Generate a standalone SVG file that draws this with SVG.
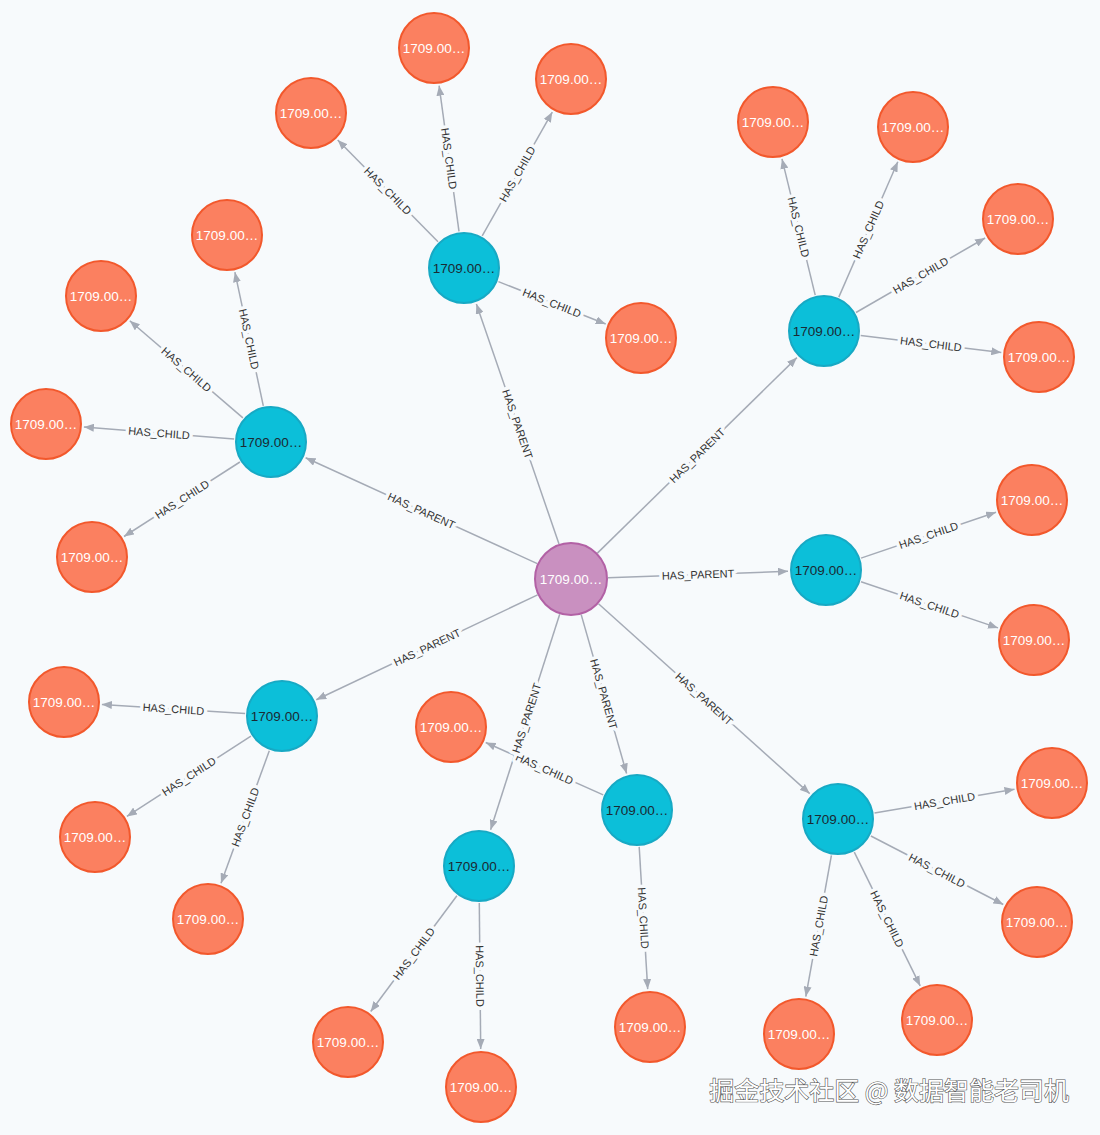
<svg xmlns="http://www.w3.org/2000/svg" width="1100" height="1135" viewBox="0 0 1100 1135">
<defs>
<style>
.e line{stroke:#A5ABB6;stroke-width:1.5;marker-end:url(#arr)}
.e text{font-family:"Liberation Sans",Arial,sans-serif;font-size:11px;fill:#333;text-anchor:middle;dominant-baseline:central;stroke:#F7FAFC;stroke-width:7;paint-order:stroke;stroke-linejoin:round}
.o{fill:#FB8060;stroke:#F2582C;stroke-width:2}
.b{fill:#0CBFD9;stroke:#17A9C4;stroke-width:2}
.p{fill:#C990C0;stroke:#B261A5;stroke-width:2}
.n text{font-family:"Liberation Sans",Arial,sans-serif;font-size:13.5px;text-anchor:middle;dominant-baseline:central}
.w{fill:#fff}
.k{fill:#1b2a33}
</style>
<marker id="arr" viewBox="0 0 10 8" refX="10" refY="4" markerWidth="10" markerHeight="8" markerUnits="userSpaceOnUse" orient="auto"><path d="M0,0 L10,4 L0,8 z" fill="#A5ABB6"/></marker>
</defs>
<rect width="1100" height="1135" fill="#F7FAFC"/>
<g id="edges" class="e">
<line x1="559" y1="544" x2="476.4" y2="303.9"/>
<line x1="537.3" y1="563.6" x2="305.6" y2="457.8"/>
<line x1="597.4" y1="553.1" x2="796.9" y2="357.6"/>
<line x1="608" y1="577.7" x2="788" y2="571.3"/>
<line x1="537.6" y1="594.9" x2="316.3" y2="699.7"/>
<line x1="559.7" y1="614.2" x2="490.6" y2="829.8"/>
<line x1="581.2" y1="614.6" x2="626.6" y2="773.5"/>
<line x1="598.5" y1="603.7" x2="809.7" y2="793.6"/>
<line x1="459" y1="231.3" x2="439.1" y2="85.7"/>
<line x1="438" y1="241.7" x2="337.7" y2="140"/>
<line x1="482.2" y1="235.8" x2="552.3" y2="112.1"/>
<line x1="498.4" y1="281.6" x2="605.7" y2="324"/>
<line x1="263.3" y1="405.8" x2="234.9" y2="272.2"/>
<line x1="242.9" y1="417.9" x2="129.8" y2="320.8"/>
<line x1="234.1" y1="439.1" x2="83.9" y2="427"/>
<line x1="239.9" y1="462" x2="124" y2="536.5"/>
<line x1="815.2" y1="295.1" x2="782" y2="158.9"/>
<line x1="838.8" y1="297.1" x2="897.8" y2="161.8"/>
<line x1="856" y1="312.5" x2="985.1" y2="238"/>
<line x1="860.7" y1="335.4" x2="1001.3" y2="352.4"/>
<line x1="861" y1="558.1" x2="996" y2="512.2"/>
<line x1="861" y1="581.8" x2="998" y2="627.9"/>
<line x1="245.1" y1="713.6" x2="101.9" y2="704.4"/>
<line x1="250.9" y1="736.1" x2="126.9" y2="816.4"/>
<line x1="269.3" y1="750.8" x2="221" y2="883.3"/>
<line x1="456.9" y1="895.7" x2="370.7" y2="1011.5"/>
<line x1="479.3" y1="903" x2="480.7" y2="1049"/>
<line x1="603.2" y1="794.9" x2="485.7" y2="742.5"/>
<line x1="639.2" y1="846.9" x2="647.7" y2="989.1"/>
<line x1="874.5" y1="812.9" x2="1014.5" y2="789.3"/>
<line x1="870.9" y1="836" x2="1003.3" y2="904.5"/>
<line x1="831.4" y1="855.4" x2="805.8" y2="996.6"/>
<line x1="854.3" y1="852.2" x2="920.2" y2="985.9"/>

<text transform="translate(544.5,768.7) rotate(24.1)">HAS_CHILD</text>
<text transform="translate(517.7,424) rotate(71)">HAS_PARENT</text>
<text transform="translate(421.4,510.7) rotate(24.5)">HAS_PARENT</text>
<text transform="translate(697.1,455.4) rotate(-44.4)">HAS_PARENT</text>
<text transform="translate(698,574.5) rotate(-2)">HAS_PARENT</text>
<text transform="translate(427,647.3) rotate(-25.4)">HAS_PARENT</text>
<text transform="translate(526.5,718) rotate(-72.2)">HAS_PARENT</text>
<text transform="translate(603.9,694) rotate(74.1)">HAS_PARENT</text>
<text transform="translate(704.1,698.7) rotate(41.9)">HAS_PARENT</text>
<text transform="translate(449.1,158.5) rotate(82.2)">HAS_CHILD</text>
<text transform="translate(387.9,190.9) rotate(45.4)">HAS_CHILD</text>
<text transform="translate(517.3,174) rotate(-60.5)">HAS_CHILD</text>
<text transform="translate(552,302.8) rotate(21.6)">HAS_CHILD</text>
<text transform="translate(249.1,339) rotate(78)">HAS_CHILD</text>
<text transform="translate(186.4,369.4) rotate(40.7)">HAS_CHILD</text>
<text transform="translate(159,433) rotate(4.6)">HAS_CHILD</text>
<text transform="translate(182,499.2) rotate(-32.7)">HAS_CHILD</text>
<text transform="translate(798.6,227) rotate(76.3)">HAS_CHILD</text>
<text transform="translate(868.3,229.5) rotate(-66.4)">HAS_CHILD</text>
<text transform="translate(920.6,275.3) rotate(-30)">HAS_CHILD</text>
<text transform="translate(931,343.9) rotate(6.9)">HAS_CHILD</text>
<text transform="translate(928.5,535.2) rotate(-18.8)">HAS_CHILD</text>
<text transform="translate(929.5,604.9) rotate(18.6)">HAS_CHILD</text>
<text transform="translate(173.5,709) rotate(3.7)">HAS_CHILD</text>
<text transform="translate(188.9,776.3) rotate(-32.9)">HAS_CHILD</text>
<text transform="translate(245.2,817) rotate(-70)">HAS_CHILD</text>
<text transform="translate(413.8,953.6) rotate(-53.3)">HAS_CHILD</text>
<text transform="translate(480,976) rotate(89.5)">HAS_CHILD</text>
<text transform="translate(643.5,918) rotate(86.6)">HAS_CHILD</text>
<text transform="translate(944.5,801.1) rotate(-9.5)">HAS_CHILD</text>
<text transform="translate(937,870.3) rotate(27.4)">HAS_CHILD</text>
<text transform="translate(818.6,926) rotate(-79.7)">HAS_CHILD</text>
<text transform="translate(887.3,919) rotate(63.8)">HAS_CHILD</text>
</g>
<g class="n">
<g id="center"><circle class="p" cx="571" cy="579" r="36"/><text class="w" x="571" y="579">1709.00…</text></g>
<g id="b1"><circle class="b" cx="464" cy="268" r="35"/><text class="k" x="464" y="268">1709.00…</text></g>
<g id="b2"><circle class="b" cx="271" cy="442" r="35"/><text class="k" x="271" y="442">1709.00…</text></g>
<g id="b3"><circle class="b" cx="824" cy="331" r="35"/><text class="k" x="824" y="331">1709.00…</text></g>
<g id="b4"><circle class="b" cx="826" cy="570" r="35"/><text class="k" x="826" y="570">1709.00…</text></g>
<g id="b5"><circle class="b" cx="282" cy="716" r="35"/><text class="k" x="282" y="716">1709.00…</text></g>
<g id="b6"><circle class="b" cx="479" cy="866" r="35"/><text class="k" x="479" y="866">1709.00…</text></g>
<g id="b7"><circle class="b" cx="637" cy="810" r="35"/><text class="k" x="637" y="810">1709.00…</text></g>
<g id="b8"><circle class="b" cx="838" cy="819" r="35"/><text class="k" x="838" y="819">1709.00…</text></g>
<g id="o1"><circle class="o" cx="434" cy="48" r="35"/><text class="w" x="434" y="48">1709.00…</text></g>
<g id="o2"><circle class="o" cx="311" cy="113" r="35"/><text class="w" x="311" y="113">1709.00…</text></g>
<g id="o3"><circle class="o" cx="571" cy="79" r="35"/><text class="w" x="571" y="79">1709.00…</text></g>
<g id="o4"><circle class="o" cx="641" cy="338" r="35"/><text class="w" x="641" y="338">1709.00…</text></g>
<g id="o5"><circle class="o" cx="227" cy="235" r="35"/><text class="w" x="227" y="235">1709.00…</text></g>
<g id="o6"><circle class="o" cx="101" cy="296" r="35"/><text class="w" x="101" y="296">1709.00…</text></g>
<g id="o7"><circle class="o" cx="46" cy="424" r="35"/><text class="w" x="46" y="424">1709.00…</text></g>
<g id="o8"><circle class="o" cx="92" cy="557" r="35"/><text class="w" x="92" y="557">1709.00…</text></g>
<g id="o9"><circle class="o" cx="773" cy="122" r="35"/><text class="w" x="773" y="122">1709.00…</text></g>
<g id="o10"><circle class="o" cx="913" cy="127" r="35"/><text class="w" x="913" y="127">1709.00…</text></g>
<g id="o11"><circle class="o" cx="1018" cy="219" r="35"/><text class="w" x="1018" y="219">1709.00…</text></g>
<g id="o12"><circle class="o" cx="1039" cy="357" r="35"/><text class="w" x="1039" y="357">1709.00…</text></g>
<g id="o13"><circle class="o" cx="1032" cy="500" r="35"/><text class="w" x="1032" y="500">1709.00…</text></g>
<g id="o14"><circle class="o" cx="1034" cy="640" r="35"/><text class="w" x="1034" y="640">1709.00…</text></g>
<g id="o15"><circle class="o" cx="64" cy="702" r="35"/><text class="w" x="64" y="702">1709.00…</text></g>
<g id="o16"><circle class="o" cx="95" cy="837" r="35"/><text class="w" x="95" y="837">1709.00…</text></g>
<g id="o17"><circle class="o" cx="208" cy="919" r="35"/><text class="w" x="208" y="919">1709.00…</text></g>
<g id="o18"><circle class="o" cx="348" cy="1042" r="35"/><text class="w" x="348" y="1042">1709.00…</text></g>
<g id="o19"><circle class="o" cx="481" cy="1087" r="35"/><text class="w" x="481" y="1087">1709.00…</text></g>
<g id="o20"><circle class="o" cx="451" cy="727" r="35"/><text class="w" x="451" y="727">1709.00…</text></g>
<g id="o21"><circle class="o" cx="650" cy="1027" r="35"/><text class="w" x="650" y="1027">1709.00…</text></g>
<g id="o22"><circle class="o" cx="1052" cy="783" r="35"/><text class="w" x="1052" y="783">1709.00…</text></g>
<g id="o23"><circle class="o" cx="1037" cy="922" r="35"/><text class="w" x="1037" y="922">1709.00…</text></g>
<g id="o24"><circle class="o" cx="799" cy="1034" r="35"/><text class="w" x="799" y="1034">1709.00…</text></g>
<g id="o25"><circle class="o" cx="937" cy="1020" r="35"/><text class="w" x="937" y="1020">1709.00…</text></g>
</g>
<text x="1069" y="1100" text-anchor="end" font-family="'Noto Sans CJK SC',sans-serif" font-size="25" fill="#fff" stroke="#555" stroke-width="1.2" paint-order="stroke">掘金技术社区 @ 数据智能老司机</text>
</svg>
